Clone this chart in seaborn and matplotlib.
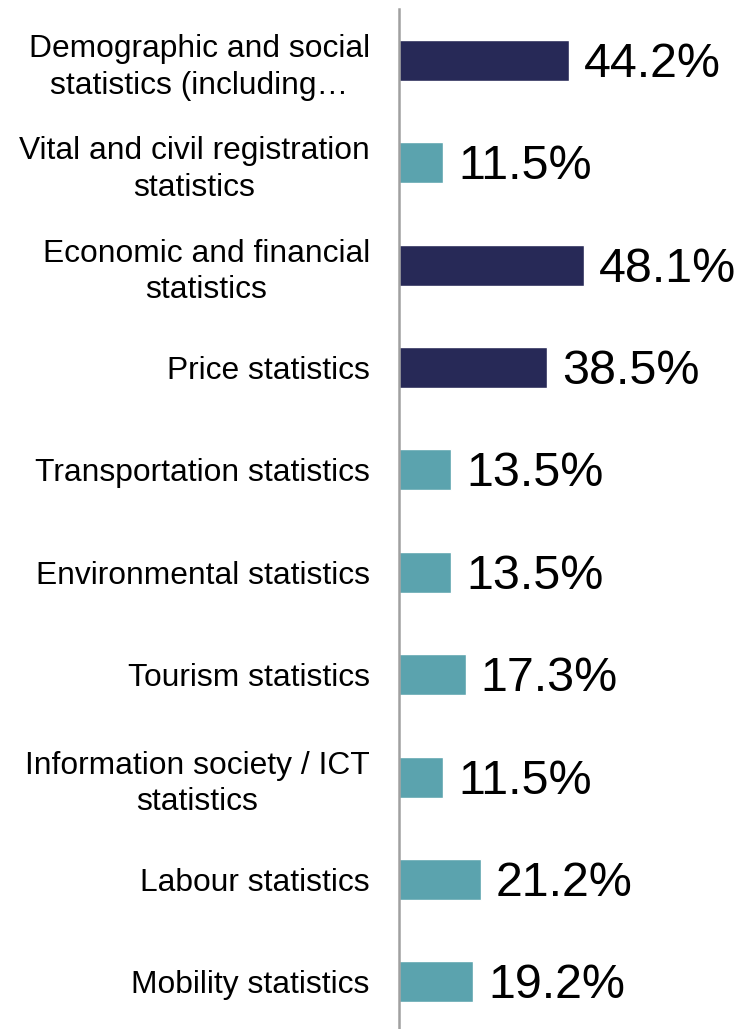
import matplotlib
matplotlib.use("Agg")
import matplotlib.pyplot as plt
import seaborn as sns
import pandas as pd

categories = [
    "Demographic and social\nstatistics (including…",
    "Vital and civil registration\nstatistics",
    "Economic and financial\nstatistics",
    "Price statistics",
    "Transportation statistics",
    "Environmental statistics",
    "Tourism statistics",
    "Information society / ICT\nstatistics",
    "Labour statistics",
    "Mobility statistics",
]
values = [44.2, 11.5, 48.1, 38.5, 13.5, 13.5, 17.3, 11.5, 21.2, 19.2]
groups = ["dark", "light", "dark", "dark", "light", "light", "light", "light", "light", "light"]

df = pd.DataFrame({"category": categories, "value": values, "group": groups})
palette = {"dark": "#272957", "light": "#5BA3AE"}

sns.set_theme(style="white")
plt.rcParams["font.family"] = ["Liberation Sans", "DejaVu Sans"]

W, H = 748, 1029
fig = plt.figure(figsize=(W / 100, H / 100), dpi=100)
ax = fig.add_axes([399 / W, 0, 1 - 399 / W, 1 - 9 / H])

sns.barplot(data=df, y="category", x="value", hue="group", palette=palette,
            dodge=False, legend=False, width=0.4, ax=ax, saturation=1)

ax.set_xlim(0, 349 / 3.85)
ax.set_ylim(9.46, -0.5)

for i, v in enumerate(values):
    ax.text(v + 15 / 3.85, i + 0.04, f"{v}%", va="center", ha="left", fontsize=34.8, color="black")

ax.set_xlabel("")
ax.set_ylabel("")
ax.set_xticks([])
ax.tick_params(axis="y", length=0, pad=21)
for lbl in ax.get_yticklabels():
    lbl.set_fontsize(22.9)
    lbl.set_multialignment("center")
    lbl.set_linespacing(1.3)
    lbl.set_color("black")

for s in ["top", "right", "bottom"]:
    ax.spines[s].set_visible(False)
ax.spines["left"].set_color("#A0A0A0")
ax.spines["left"].set_linewidth(1.8)

fig.savefig("out.png", dpi=100)
